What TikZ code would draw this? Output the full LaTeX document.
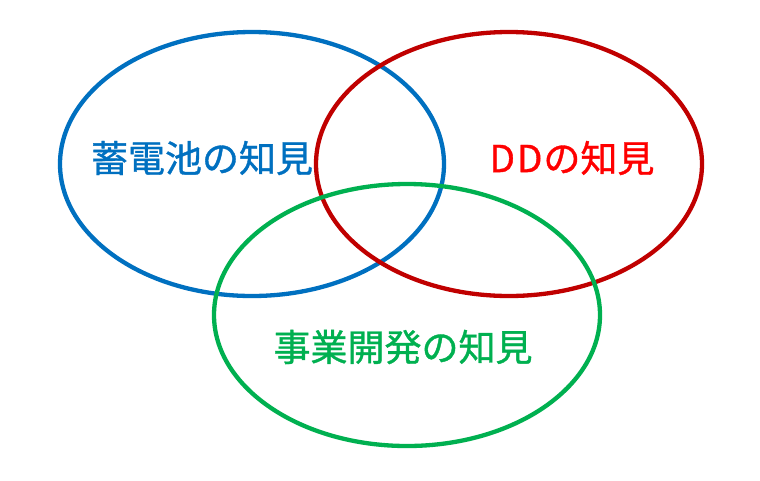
\documentclass[tikz,border=0pt]{standalone}
\usepackage{fontspec}
\newfontfamily\jpfont[FakeBold=1]{Noto Sans CJK JP}
\usetikzlibrary{backgrounds}

\definecolor{knowblue}{RGB}{0,112,192}
\definecolor{knowred}{RGB}{192,0,0}
\definecolor{knowtext}{RGB}{255,0,0}
\definecolor{knowgreen}{RGB}{0,176,80}

\begin{document}
\begin{tikzpicture}[
    x=1pt, y=-1pt,
    show background rectangle,
    tight background=0,
    background rectangle/.style={fill=white},
    ring/.style={line width=4.3pt},
    label/.style={font=\jpfont\fontsize{37}{40}\selectfont, inner sep=0},
 ]
    \useasboundingbox (0,0) rectangle (760,480);

    \coordinate (CB) at (252,164);
    \coordinate (CR) at (509,164);
    \coordinate (CG) at (407,315);

    \draw[ring, knowblue] (CB) ellipse [x radius=192pt, y radius=132pt];
    \draw[ring, knowred] (CR) ellipse [x radius=193pt, y radius=132pt];
    \draw[ring, knowgreen] (CG) ellipse [x radius=193pt, y radius=131pt];

    \node[label, text=knowblue] (battery) at (202,158) {蓄電池の知見};
    \node[label, text=knowtext] (dd) at (572,158) {D\kern2pt D\kern1pt の知見};
    \node[label, text=knowgreen] (business) at (403,347) {事業開発の知見};
\end{tikzpicture}
\end{document}
